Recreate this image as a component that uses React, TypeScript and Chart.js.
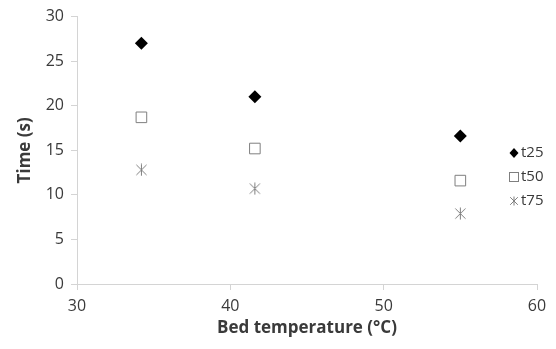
import React, { useEffect, useRef } from "react";
import { Chart, registerables } from "chart.js";

Chart.register(...registerables);

const temperatures = [34.2, 41.6, 55];
const t25 = [27, 21, 16.6];
const t50 = [18.7, 15.2, 11.6];
const t75 = [12.8, 10.7, 7.9];
const seriesNames = ["t25", "t50", "t75"];
const xTicks = [30, 40, 50, 60];
const yTicks = [0, 5, 10, 15, 20, 25, 30];

const FONT = "'Open Sans', 'Liberation Sans', sans-serif";
const GRAY = "#7f7f7f";
const AXIS = "#d4d4d4";
const TEXT = "#3a3a3a";

function makeAsterisk(size: number, color: string) {
  const c = document.createElement("canvas");
  c.width = size;
  c.height = size;
  const ctx = c.getContext("2d")!;
  const m = size / 2;
  const h = size / 2 - 0.5;
  ctx.strokeStyle = color;
  ctx.lineWidth = 1;
  ctx.beginPath();
  ctx.moveTo(m, m - h);
  ctx.lineTo(m, m + h);
  const d = h * 0.85;
  ctx.moveTo(m - d, m - d);
  ctx.lineTo(m + d, m + d);
  ctx.moveTo(m - d, m + d);
  ctx.lineTo(m + d, m - d);
  ctx.stroke();
  return c;
}

const legendPlugin = {
  id: "excelLegend",
  afterDraw(chart: any) {
    const ctx = chart.ctx;
    const x = 514;
    const ys = [153, 177, 201];
    ctx.save();
    chart.data.datasets.forEach((ds: any, i: number) => {
      const y = ys[i];
      const style = ds.legendStyle;
      if (style === "diamond") {
        ctx.fillStyle = "#000";
        ctx.beginPath();
        ctx.moveTo(x, y - 5);
        ctx.lineTo(x + 4.5, y);
        ctx.lineTo(x, y + 5);
        ctx.lineTo(x - 4.5, y);
        ctx.closePath();
        ctx.fill();
      } else if (style === "square") {
        ctx.strokeStyle = GRAY;
        ctx.lineWidth = 1;
        ctx.strokeRect(x - 4.5, y - 4.5, 9, 9);
      } else {
        const img = ds.legendImage as HTMLCanvasElement;
        ctx.drawImage(img, x - img.width / 2, y - img.height / 2);
      }
      ctx.fillStyle = TEXT;
      ctx.font = `15px ${FONT}`;
      ctx.textBaseline = "middle";
      ctx.textAlign = "left";
      ctx.fillText(seriesNames[i], x + 7, y);
    });
    ctx.restore();
  },
};

export default function App() {
  const ref = useRef<HTMLCanvasElement>(null);
  useEffect(() => {
    const star = makeAsterisk(13, GRAY);
    const smallStar = makeAsterisk(10, GRAY);
    const mk = (ys: number[]) => temperatures.map((t, i) => ({ x: t, y: ys[i] }));
    const chart = new Chart(ref.current!, {
      type: "scatter",
      data: {
        datasets: [
          {
            label: seriesNames[0],
            data: mk(t25),
            pointStyle: "rectRot",
            pointRadius: 6.5,
            backgroundColor: "#000",
            borderColor: "#000",
            borderWidth: 0,
            legendStyle: "diamond",
          } as any,
          {
            label: seriesNames[1],
            data: mk(t50),
            pointStyle: "rect",
            pointRadius: 7.5,
            backgroundColor: "#fff",
            borderColor: GRAY,
            borderWidth: 1,
            legendStyle: "square",
          } as any,
          {
            label: seriesNames[2],
            data: mk(t75),
            pointStyle: star,
            pointRadius: 7,
            backgroundColor: GRAY,
            borderColor: GRAY,
            legendStyle: "star",
            legendImage: smallStar,
          } as any,
        ],
      },
      options: {
        responsive: false,
        animation: false,
        layout: { padding: { left: 0, right: 19, top: 13, bottom: 0 } },
        plugins: { legend: { display: false }, tooltip: { enabled: false } },
        scales: {
          x: {
            type: "linear",
            min: 30,
            max: 60,
            afterBuildTicks: (s: any) => {
              s.ticks = xTicks.map((v) => ({ value: v }));
            },
            afterFit: (s: any) => {
              s.height = 65;
            },
            grid: { drawOnChartArea: false, drawTicks: true, tickLength: 6, color: AXIS },
            border: { color: AXIS },
            ticks: { color: TEXT, font: { family: FONT, size: 16 }, padding: 7 },
            title: {
              display: true,
              text: "Bed temperature (°C)",
              color: TEXT,
              font: { family: FONT, size: 17, weight: "bold" },
              padding: { top: 11, bottom: 11 },
            },
          },
          y: {
            type: "linear",
            min: 0,
            max: 30,
            afterBuildTicks: (s: any) => {
              s.ticks = yTicks.map((v) => ({ value: v }));
            },
            afterFit: (s: any) => {
              s.width = 77;
            },
            grid: { drawOnChartArea: false, drawTicks: true, tickLength: 6, color: AXIS },
            border: { color: AXIS },
            ticks: { color: TEXT, font: { family: FONT, size: 16 }, padding: 7 },
            title: {
              display: true,
              text: "Time (s)",
              color: TEXT,
              font: { family: FONT, size: 17, weight: "bold" },
              padding: { top: 15, bottom: 15 },
            },
          },
        },
      },
      plugins: [legendPlugin],
    });
    return () => chart.destroy();
  }, []);
  return (
    <div style={{ position: "fixed", left: 0, top: 0, width: 556, height: 349, background: "#fff" }}>
      <canvas ref={ref} width={556} height={349} />
    </div>
  );
}
